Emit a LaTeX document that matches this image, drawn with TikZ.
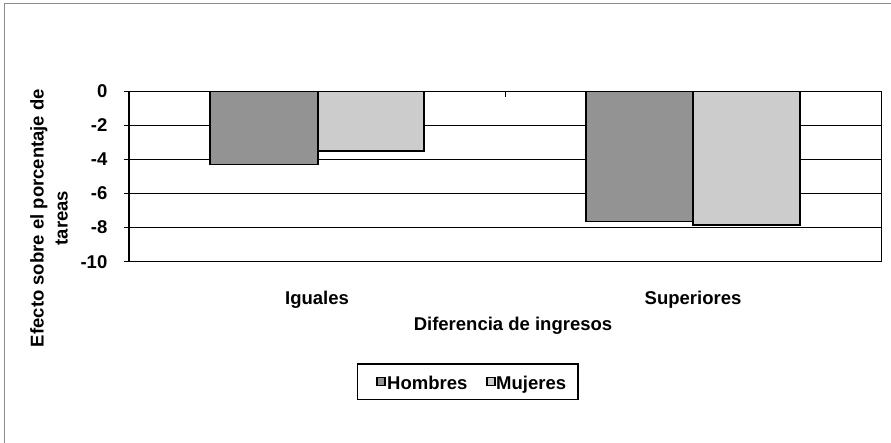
\documentclass[tikz,border=0pt]{standalone}
\usepackage{fontspec}
\setmainfont{Liberation Sans}
\definecolor{hombres}{HTML}{939393}
\definecolor{mujeres}{HTML}{CCCCCC}
\definecolor{frame}{HTML}{8C8C8C}
\begin{document}
\begin{tikzpicture}[x=1pt,y=-1pt,
  lbl/.style={font=\fontsize{18.5}{24}\selectfont\bfseries, inner sep=0pt},
  grid/.style={line width=1.6pt, black},
  bar/.style={draw=black, line width=1.6pt},
  legbox/.style={draw=black, line width=1.2pt}]
\useasboundingbox (0,0) rectangle (891,443);
% outer frame (only left and top visible)
\draw[frame, line width=1pt] (4,443) -- (4,3.5) -- (891,3.5);
% gridlines
\foreach \y in {125.5,159.5,193.5,227.5} \draw[grid] (129,\y) -- (881.5,\y);
% bars (value -> y = 91.5 + 17.02*|v|)
\filldraw[bar, fill=hombres] (210,91.5) rectangle (318,164.7);
\filldraw[bar, fill=mujeres] (318,91.5) rectangle (424,151.1);
\filldraw[bar, fill=hombres] (586,91.5) rectangle (693,221.7);
\filldraw[bar, fill=mujeres] (693,91.5) rectangle (800,225.1);
% plot frame / axes
\draw[grid] (129,261.7) -- (881.5,261.7);
\draw[grid] (129,91.5) -- (881.5,91.5) -- (881.5,261.7);
\draw[grid] (129,91.5) -- (129,261.7);
% ticks
\foreach \y in {91.5,125.5,159.5,193.5,227.5,261.7} \draw[grid] (123.5,\y) -- (129,\y);
\draw[grid] (505.5,91.5) -- (505.5,97.5);
% tick labels
\node[lbl, anchor=east] (t0) at (107.5,91.5) {0};
\node[lbl, anchor=east] (t2) at (107.5,125.5) {-2};
\node[lbl, anchor=east] (t4) at (107.5,159.5) {-4};
\node[lbl, anchor=east] (t6) at (107.5,193.5) {-6};
\node[lbl, anchor=east] (t8) at (107.5,227.5) {-8};
\node[lbl, anchor=east] (t10) at (107.5,261.7) {-10};
% axis titles
\node[lbl, rotate=90, align=center] (ytitle) at (49,218) {Efecto sobre el porcentaje de\\tareas};
\node[lbl, anchor=base] (cat1) at (317,305) {Iguales};
\node[lbl, anchor=base] (cat2) at (693,305) {Superiores};
\node[lbl, anchor=base] (xtitle) at (513,330.5) {Diferencia de ingresos};
% legend
\draw[legbox] (357.5,364) rectangle (578,399.5);
\filldraw[draw=black, line width=1.2pt, fill=hombres] (377,377.5) rectangle (385,385.5);
\filldraw[draw=black, line width=1.2pt, fill=mujeres] (487,377.5) rectangle (495,385.5);
\node[lbl, anchor=base west] (legH) at (387,389) {Hombres};
\node[lbl, anchor=base west] (legM) at (496,389) {Mujeres};
\end{tikzpicture}
\end{document}
